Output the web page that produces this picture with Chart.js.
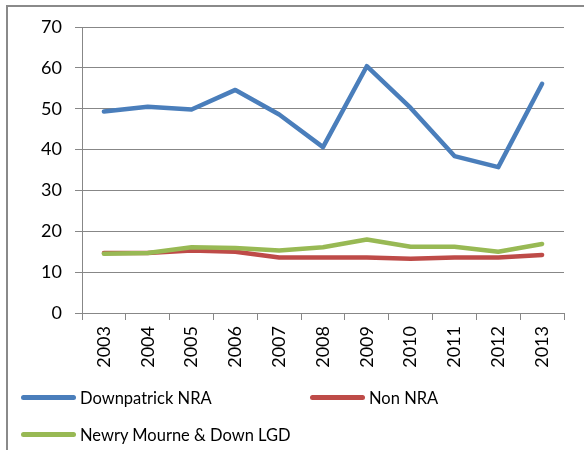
<!DOCTYPE html>
<html>
<head>
<meta charset="utf-8">
<script src="https://cdn.jsdelivr.net/npm/chart.js@4"></script>
<style>
  body { margin: 0; background: #fff; }
  #wrap { position: relative; width: 584px; height: 450px; overflow: hidden; }
  #frame { position: absolute; left: 6px; top: 5px; width: 700px; height: 600px;
           border-top: 2px solid #8a8a8a; border-left: 2px solid #8a8a8a; }
  #chartCanvas { position: absolute; left: 0; top: 0; }
  #legend { position: absolute; left: 21px; top: 379px; width: 600px;
            display: flex; flex-wrap: wrap; font-family: Lato, "Open Sans", sans-serif; font-size: 16.5px; color: #000; }
  .item { width: 289px; height: 37px; display: flex; align-items: center; white-space: nowrap; }
  .swatch { width: 55px; height: 5px; border-radius: 3px; margin-right: 4px; }
</style>
</head>
<body>
<div id="wrap">
  <div id="frame"></div>
  <canvas id="chartCanvas" width="584" height="450"></canvas>
  <div id="legend"></div>
</div>
<script>
const years = ["2003", "2004", "2005", "2006", "2007", "2008", "2009", "2010", "2011", "2012", "2013"];
const downpatrick = [49.3, 50.5, 49.8, 54.6, 48.6, 40.6, 60.4, 50.2, 38.4, 35.7, 56.1];
const nonNra = [14.7, 14.7, 15.3, 15.0, 13.6, 13.6, 13.6, 13.3, 13.6, 13.6, 14.2];
const newryLgd = [14.5, 14.7, 16.1, 15.9, 15.3, 16.1, 18.0, 16.2, 16.2, 15.0, 16.9];
const yTicks = [0, 10, 20, 30, 40, 50, 60, 70];

const gridGrey = "#878787";
const tickFont = { family: "Lato, 'Open Sans', sans-serif", size: 18 };

function series(label, data, color, order) {
    return {
        label: label,
        data: data,
        borderColor: color,
        backgroundColor: color,
        borderWidth: 4.5,
        borderCapStyle: "round",
        borderJoinStyle: "round",
        pointRadius: 0,
        tension: 0,
        fill: false,
        order: order // later series sit on top, like the original
    };
}

const ctx = document.getElementById("chartCanvas").getContext("2d");
const chart = new Chart(ctx, {
    type: "line",
    data: {
        labels: years,
        datasets: [
            series("Downpatrick NRA", downpatrick, "#4A7EBB", 3),
            series("Non NRA", nonNra, "#BE4B48", 2),
            series("Newry Mourne & Down LGD", newryLgd, "#98B954", 1)
        ]
    },
    options: {
        responsive: false,
        animation: false,
        layout: { padding: { left: 0, top: 27, right: 20, bottom: 77 } },
        scales: {
            x: {
                offset: true,
                grid: { offset: true, drawOnChartArea: false, drawTicks: true, tickLength: 7, color: gridGrey },
                border: { color: gridGrey, width: 1 },
                ticks: {
                    minRotation: 90, maxRotation: 90, autoSkip: false, padding: 6,
                    color: "#000", font: tickFont
                },
                afterFit: function (scale) { scale.height = 60; }
            },
            y: {
                min: 0, max: 70,
                afterBuildTicks: function (scale) { scale.ticks = yTicks.map(v => ({ value: v })); },
                grid: { color: gridGrey, tickLength: 7 },
                border: { color: gridGrey, width: 1 },
                ticks: { padding: 13, color: "#000", font: tickFont },
                afterFit: function (scale) { scale.width = 82; }
            }
        },
        plugins: {
            legend: { display: false },
            tooltip: { enabled: false }
        }
    }
});

// legend built from the datasets, laid out like the original (two per row, left aligned)
const legendEl = document.getElementById("legend");
chart.data.datasets.forEach(ds => {
    let item = document.createElement("div");
    item.className = "item";
    let sw = document.createElement("span");
    sw.className = "swatch";
    sw.style.background = ds.borderColor;
    let txt = document.createElement("span");
    txt.textContent = ds.label;
    item.appendChild(sw);
    item.appendChild(txt);
    legendEl.appendChild(item);
});
</script>
</body>
</html>
